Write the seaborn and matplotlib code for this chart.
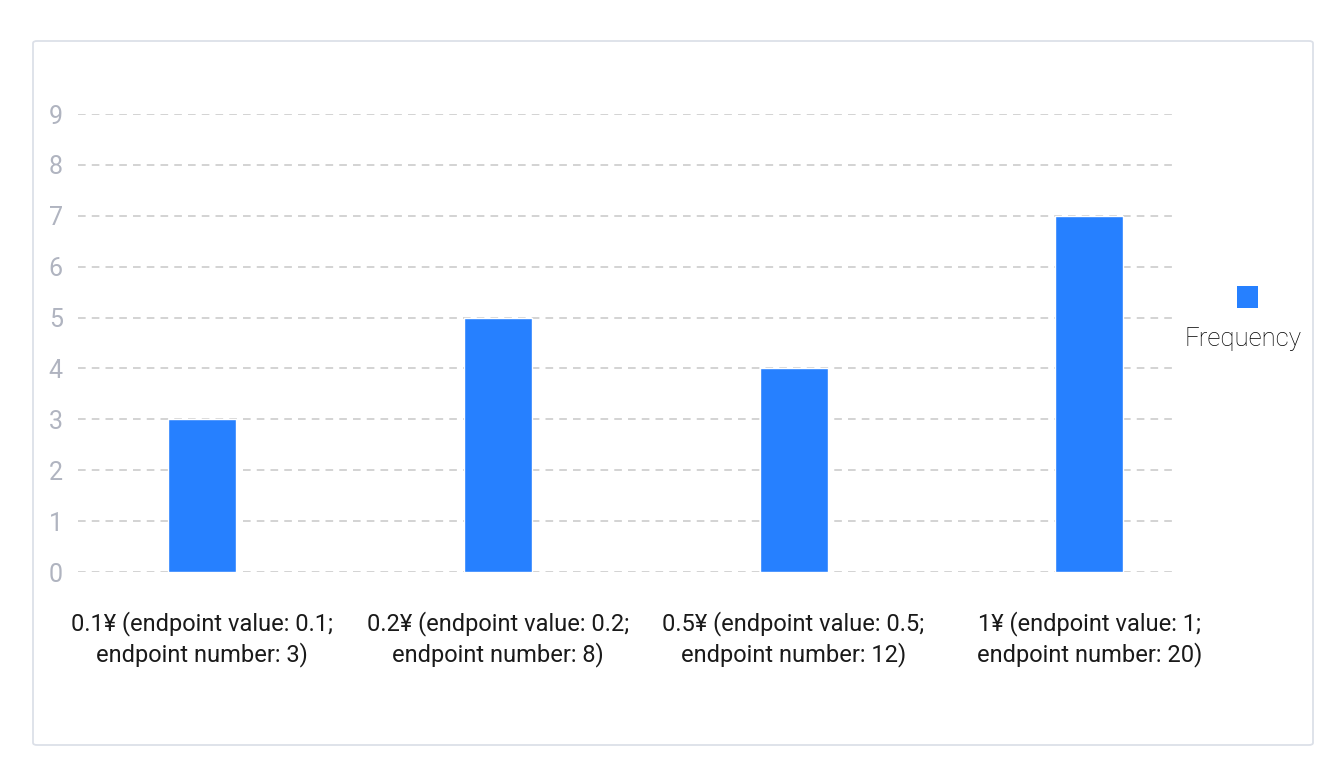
import matplotlib
matplotlib.use("Agg")
import matplotlib.pyplot as plt
from matplotlib.patches import FancyBboxPatch, Rectangle
import pandas as pd
import seaborn as sns

# chart data
categories = [
    "0.1¥ (endpoint value: 0.1;\nendpoint number: 3)",
    "0.2¥ (endpoint value: 0.2;\nendpoint number: 8)",
    "0.5¥ (endpoint value: 0.5;\nendpoint number: 12)",
    "1¥ (endpoint value: 1;\nendpoint number: 20)",
]
frequency = [3, 5, 4, 7]
y_ticks = list(range(0, 10))
series_name = "Frequency"

bar_color = "#2680FF"

sns.set_style("white")
plt.rcParams["font.family"] = ["Roboto", "DejaVu Sans"]

df = pd.DataFrame({"category": categories, "value": frequency})

fig = plt.figure(figsize=(13.4, 7.68), dpi=100)
ax = fig.add_axes([78 / 1340, 1 - 572 / 768, (1175 - 78) / 1340, (572 - 114) / 768])

sns.barplot(data=df, x="category", y="value", color=bar_color, width=0.23,
            saturation=1, ax=ax, zorder=3)

ax.set_xlim(-0.42, 3.29)
ax.set_ylim(0, 9)
ax.set_yticks(y_ticks)
ax.set_yticklabels([str(t) for t in y_ticks], color="#B0B4C0", fontsize=18,
                   fontweight="normal")
ax.tick_params(axis="y", length=0, pad=11)
ax.tick_params(axis="x", length=0, pad=28, labelsize=17, labelcolor="#1a1a1a")
for lbl in ax.get_xticklabels():
    lbl.set_linespacing(1.33)
ax.set_xlabel("")
ax.set_ylabel("")
ax.grid(axis="y", color="#C8C8C8", linestyle=(0, (5, 4)), linewidth=1.1, zorder=0)
ax.grid(axis="x", visible=False)
ax.set_axisbelow(True)
for s in ax.spines.values():
    s.set_visible(False)

# card frame
fig.patches.append(FancyBboxPatch((33 / 1340, 1 - 745 / 768), (1313 - 33) / 1340,
                                  (745 - 41) / 768, boxstyle="round,pad=0,rounding_size=0.003",
                                  transform=fig.transFigure, facecolor="none",
                                  edgecolor="#DCE0E8", linewidth=1.3, zorder=0))

# legend
fig.patches.append(Rectangle((1237 / 1340, 1 - 308 / 768), 21 / 1340, 22 / 768,
                             transform=fig.transFigure, facecolor=bar_color,
                             edgecolor="none"))
fig.text(1243 / 1340, 1 - 339 / 768, series_name, ha="center", va="center",
         fontsize=18.5, fontweight="light", color="#000000")

fig.savefig("out.png", dpi=100)
